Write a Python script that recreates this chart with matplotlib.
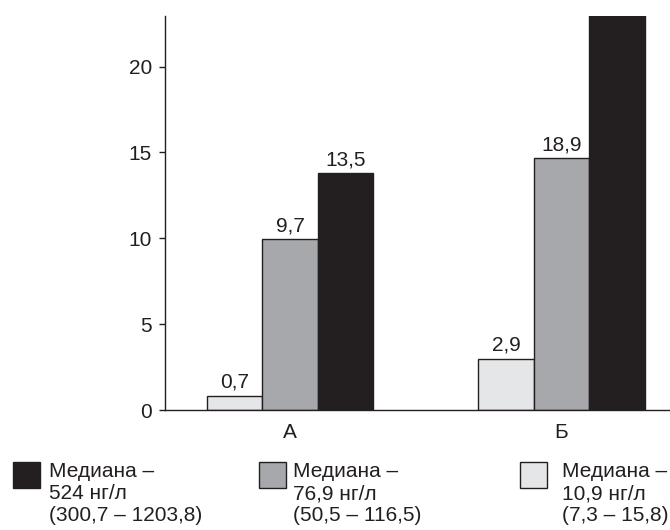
import matplotlib
matplotlib.use('Agg')
import matplotlib.pyplot as plt
from matplotlib.patches import Rectangle
import numpy as np

groups = ['А', 'Б']
# bar heights as drawn (black bar in Б runs past the top of the axis)
light_vals = [0.83, 2.97]
gray_vals = [9.94, 14.66]
black_vals = [13.79, 30.0]
light_labels = ['0,7', '2,9']
gray_labels = ['9,7', '18,9']
black_labels = ['13,5', '']

legend_lines = [['Медиана –', '524 нг/л', '(300,7 – 1203,8)'],
                ['Медиана –', '76,9 нг/л', '(50,5 – 116,5)'],
                ['Медиана –', '10,9 нг/л', '(7,3 – 15,8)']]

c_light = '#e5e6e8'
c_gray = '#a7a8ab'
c_black = '#231f20'
ink = '#231f20'

plt.rcParams['font.family'] = ['Liberation Sans', 'DejaVu Sans']
plt.rcParams['font.size'] = 15

W, H = 670, 530
fig = plt.figure(figsize=(W / 100, H / 100), dpi=100)
ax = fig.add_axes([165 / W, 120 / H, 505 / W, 394 / H])

x = np.arange(len(groups))
w = 0.2046
series = [(light_vals, light_labels, c_light, -w),
          (gray_vals, gray_labels, c_gray, 0),
          (black_vals, black_labels, c_black, w)]
for vals, labels, color, off in series:
    bars = ax.bar(x + off, vals, w, color=color, edgecolor=ink, linewidth=1.0)
    for b, lab in zip(bars, labels):
        if lab:
            ax.annotate(lab, (b.get_x() + b.get_width() / 2, b.get_height()),
                        xytext=(0, 3), textcoords='offset points',
                        ha='center', va='bottom', fontsize=15, color=ink)

ax.set_xlim(-0.4615, 1.40)
ax.set_ylim(0, 22.95)
ax.set_yticks([0, 5, 10, 15, 20])
ax.set_xticks(x)
ax.set_xticklabels(groups)
ax.tick_params(axis='x', length=0, pad=9, colors=ink, labelsize=15)
ax.tick_params(axis='y', length=4.3, width=1, direction='out', pad=5,
               colors=ink, labelsize=15)
for s in ['top', 'right']:
    ax.spines[s].set_visible(False)
for s in ['left', 'bottom']:
    ax.spines[s].set_color(ink)
    ax.spines[s].set_linewidth(1.0)

# legend below the chart (pixel positions)
sq_x = [13, 259, 520]
txt_x = [49, 293, 562]
cols = [c_black, c_gray, c_light]
baselines = [477, 499, 521]
for sx, tx, col, lines in zip(sq_x, txt_x, cols, legend_lines):
    fig.add_artist(Rectangle((sx / W, (H - 488) / H), 27 / W, 26 / H,
                             transform=fig.transFigure, facecolor=col,
                             edgecolor=ink, linewidth=1.0))
    for yb, line in zip(baselines, lines):
        fig.text(tx / W, (H - yb) / H, line, ha='left', va='baseline',
                 fontsize=15, color=ink)

fig.savefig('out.png', dpi=100)
